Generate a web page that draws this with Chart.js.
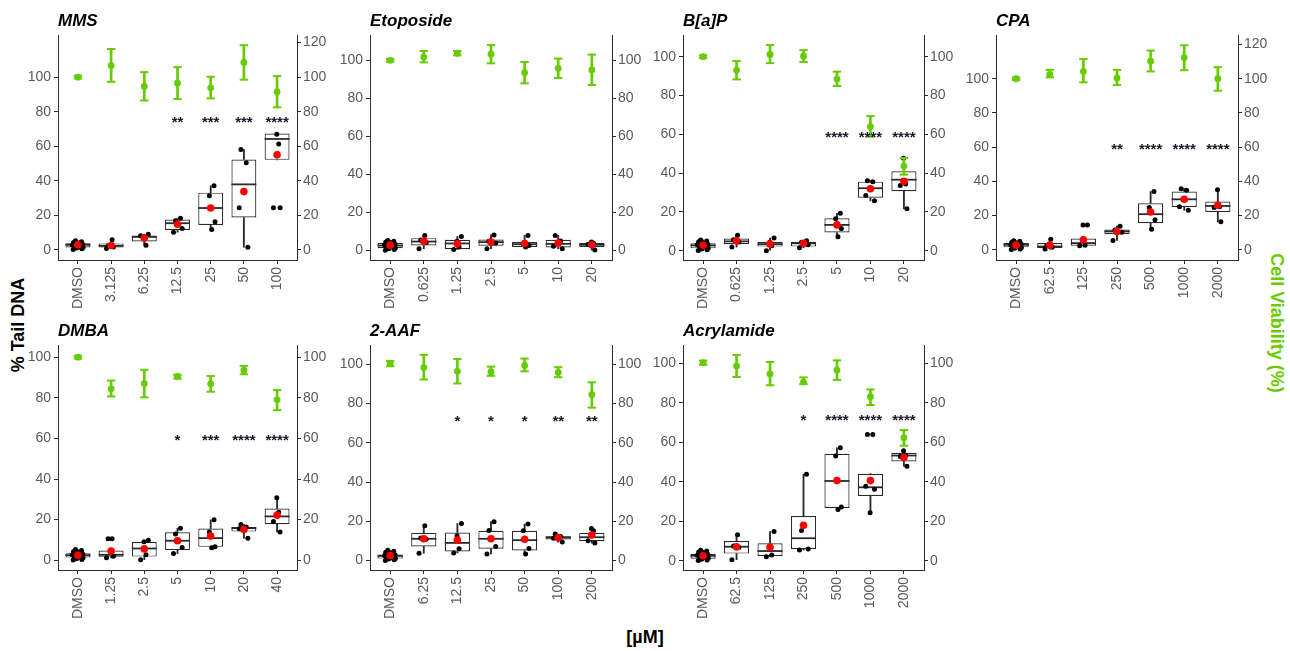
<!DOCTYPE html>
<html><head><meta charset="utf-8">
<script src="https://cdn.jsdelivr.net/npm/chart.js@4.4.1/dist/chart.umd.min.js"></script>
<style>
body{margin:0;background:#fff;}
#wrap{position:relative;width:1290px;height:651px;overflow:hidden;font-family:"Liberation Sans",Arial,sans-serif;background:#fff;}
canvas{position:absolute;}
.lab{position:absolute;font-weight:bold;font-size:18px;white-space:nowrap;transform-origin:center center;}
</style></head><body><div id="wrap">
<div class="lab" style="left:18px;top:325px;transform:translate(-50%,-50%) rotate(-90deg);color:#000;">% Tail DNA</div>
<div class="lab" style="left:1276px;top:323px;transform:translate(-50%,-50%) rotate(90deg);color:#66CC00;">Cell Viability (%)</div>
<div class="lab" style="left:645px;top:637px;transform:translate(-50%,-50%);color:#000;">[µM]</div>
</div>
<script>
// ---------------- DATA ----------------
// box rows: [whiskerLow, Q1, median, Q3, whiskerHigh]; viability rows: [mean, low, high]
const leftTicks = [0, 20, 40, 60, 80, 100];
const wideTicks = [0, 20, 40, 60, 80, 100, 120];

const mmsDoses = ['DMSO', '3.125', '6.25', '12.5', '25', '50', '100'];
const mmsBox = [[0.2,1.3,2.9,3.8,5.2],[0.8,1.3,2.3,3.7,5.8],[2.7,4.8,7.5,8.3,9.0],[10.2,11.5,15.4,17.5,18.3],[11.7,14.4,24.2,33.1,37.1],[1.5,18.7,37.9,52.3,58.1],[52.1,52.1,64.2,67.3,67.3]];
const mmsPts = [[0.2,0.6,1.0,1.3,1.7,2.1,2.5,2.8,3.2,3.6,3.9,4.3,4.7,5.2],[5.8,2.4,1.6,0.8],[9.0,7.7,2.7,8.1],[18.3,16.9,12.3,10.2],[37.1,31.3,16.3,11.7],[58.1,50.4,24.4,1.5],[66.9,61.3,24.4,24.4]];
const mmsMean = [2.9, 2.5, 6.9, 14.8, 24.2, 33.7, 55.0];
const mmsViab = [[100,99.2,100.8],[106.7,97.3,116.3],[94.6,86.5,102.9],[96.5,87.3,105.8],[93.8,87.7,100.2],[108.5,98.5,118.5],[91.5,82.5,100.6]];
const mmsStars = ['', '', '', '**', '***', '***', '****'];

const etoDoses = ['DMSO', '0.625', '1.25', '2.5', '5', '10', '20'];
const etoBox = [[0.1,1.2,2.6,3.9,5.3],[0.9,2.6,4.7,6.5,7.9],[0.5,0.7,3.7,5.6,7.4],[0.9,2.5,4.4,5.8,8.2],[1.8,1.9,3.3,4.4,7.9],[0.9,1.6,3.5,5.6,7.9],[0.2,1.8,3.0,3.9,4.4]];
const etoPts = [[0.1,0.5,0.9,1.3,1.8,2.2,2.6,2.9,3.3,3.7,4.1,4.5,4.9,5.3],[7.9,5.5,4.2,0.9],[7.4,4.8,1.9,0.5],[8.2,4.8,3.9,0.9],[7.9,3.3,2.6,1.8],[7.9,5.0,2.2,0.9],[4.4,3.8,3.3,0.2]];
const etoMean = [2.8, 4.9, 3.5, 4.4, 3.7, 3.9, 3.0];
const etoViab = [[100,99.3,100.7],[101.7,98.9,104.9],[103.7,102.6,104.9],[103.2,98.4,108],[93.5,87.9,99.1],[95.8,90.7,100.9],[94.9,87,103]];
const etoStars = ['', '', '', '', '', '', ''];

const bapDoses = ['DMSO', '0.625', '1.25', '2.5', '5', '10', '20'];
const bapBox = [[0.1,1.2,2.7,3.8,5.5],[1.9,3.3,4.8,6.3,7.9],[0.0,2.1,3.4,4.6,6.5],[1.5,2.1,3.8,4.6,5.1],[7.2,9.4,13.3,16.7,19.3],[25.7,27.3,32.2,35.6,36.1],[21.6,30.7,36.6,40.9,47.6]];
const bapPts = [[0.1,0.5,0.9,1.4,1.8,2.2,2.6,3.0,3.3,3.7,4.1,4.6,5.0,5.5],[7.9,5.6,4.5,1.9],[6.5,4.3,2.6,0.0],[5.1,4.3,3.0,1.5],[19.3,16.5,11.4,7.2],[36.1,35.6,28.5,25.7],[47.6,34.4,33.6,21.6]];
const bapMean = [2.8, 5.1, 3.4, 3.8, 13.3, 31.9, 35.8];
const bapViab = [[100,99.3,100.7],[93,88.3,97.8],[101.2,96.7,106],[100.3,97.3,103.4],[88.5,84.9,92.3],[63.9,58.8,69.4],[43.6,39.2,47.8]];
const bapStars = ['', '', '', '', '****', '****', '****'];

const cpaDoses = ['DMSO', '62.5', '125', '250', '500', '1000', '2000'];
const cpaBox = [[0.1,1.4,2.9,3.9,5.3],[0.4,1.0,1.9,3.9,6.2],[2.3,2.3,3.9,6.6,6.6],[5.4,9.1,10.7,11.8,13.8],[12.0,15.5,20.8,27.2,34.0],[23.1,25.0,29.5,34.0,35.7],[16.3,22.1,25.6,28.2,35.1]];
const cpaPts = [[0.1,0.5,0.9,1.3,1.7,2.1,2.5,2.9,3.3,3.6,4.0,4.4,4.9,5.3],[6.2,2.5,1.5,0.4],[14.4,14.4,2.7,2.3],[13.8,11.6,10.2,5.4],[34.0,24.7,17.5,12.0],[35.7,34.8,25.2,23.1],[35.1,25.2,24.7,16.3]];
const cpaMean = [2.7, 2.7, 5.8, 10.7, 22.1, 29.5, 26.0];
const cpaViab = [[100,99.3,100.7],[102.5,100.8,105.2],[104.3,97.9,111.5],[100.4,96.3,105.2],[110.3,104.3,116.5],[112.4,105,119.6],[100,93,106.8]];
const cpaStars = ['', '', '', '**', '****', '****', '****'];

const dmbaDoses = ['DMSO', '1.25', '2.5', '5', '10', '20', '40'];
const dmbaBox = [[0.1,1.3,2.5,3.5,5.3],[1.2,1.7,2.7,4.8,4.8],[0.3,1.8,5.8,9.0,9.8],[3.3,5.0,9.6,13.8,15.8],[6.1,6.6,10.9,15.6,19.9],[10.8,14.1,15.8,16.4,17.6],[13.9,17.7,21.6,25.5,30.8]];
const dmbaPts = [[0.1,0.4,0.8,1.2,1.6,2.0,2.4,2.7,3.1,3.5,3.9,4.3,4.8,5.3],[10.6,10.6,2.0,1.2],[9.8,9.1,2.7,0.3],[15.8,12.9,6.3,3.3],[19.9,13.9,6.6,6.1],[17.6,16.4,15.5,10.8],[30.8,23.7,19.1,13.9]];
const dmbaMean = [2.5, 4.5, 5.6, 9.6, 11.9, 15.1, 22.2];
const dmbaViab = [[100,99.3,100.7],[84.4,80.7,88.5],[87,80.2,93.8],[90.5,89.5,91.3],[86.9,83,90.7],[93.6,91.6,95.7],[79,73.9,83.8]];
const dmbaStars = ['', '', '', '*', '***', '****', '****'];

const aafDoses = ['DMSO', '6.25', '12.5', '25', '50', '100', '200'];
const aafBox = [[0.1,1.0,2.4,3.1,5.3],[3.7,7.2,11.1,14.1,17.7],[3.9,4.6,9.0,14.3,18.9],[3.4,6.0,11.1,15.2,19.8],[3.4,5.1,10.4,15.2,18.6],[9.4,10.7,11.8,12.4,13.5],[8.9,9.9,11.9,14.1,16.4]];
const aafPts = [[0.1,0.4,0.8,1.1,1.5,1.9,2.3,2.6,3.0,3.4,3.8,4.3,4.8,5.3],[17.7,11.5,10.9,3.7],[18.9,12.6,6.0,3.9],[19.8,15.3,7.2,3.4],[18.6,15.2,6.1,3.4],[13.5,12.2,11.4,9.4],[16.4,15.2,10.1,8.9]];
const aafMean = [2.6, 11.1, 10.4, 11.1, 10.9, 11.6, 13.0];
const aafViab = [[100.3,99,101.7],[98.3,92.2,104.8],[96.4,90.2,102.7],[96.1,94.1,98.8],[99.3,96.4,102.9],[95.8,93.4,98.5],[84.5,77.9,90.8]];
const aafStars = ['', '', '*', '*', '*', '**', '**'];

const acrDoses = ['DMSO', '62.5', '125', '250', '500', '1000', '2000'];
const acrBox = [[0.1,1.0,2.5,3.4,5.3],[0.5,3.6,7.1,10.0,13.2],[2.0,2.4,4.9,8.8,14.8],[5.4,5.8,11.4,22.6,43.8],[26.0,26.7,40.4,54.2,57.2],[24.3,32.8,37.2,44.1,44.1],[47.9,50.3,53.3,54.7,55.7]];
const acrPts = [[0.1,0.4,0.8,1.2,1.6,2.0,2.4,2.8,3.2,3.6,4.0,4.4,4.9,5.3],[13.2,7.4,6.8,0.5],[14.8,6.8,2.9,2.0],[43.8,15.3,5.9,5.4],[57.2,53.0,27.2,26.0],[64.0,64.0,37.7,36.2,24.3],[55.7,53.5,52.8,47.9]];
const acrMean = [2.5, 7.0, 6.8, 18.0, 40.6, 40.6, 52.3];
const acrViab = [[100.3,99.3,101.4],[98.6,93.1,104.2],[94.6,88.9,100.7],[90.5,89.5,92.9],[96.5,91.6,101.5],[83.1,78.9,86.8],[62.3,58.3,66.2]];
const acrStars = ['', '', '', '*', '****', '****', '****'];

// ---------------- STYLE / LAYOUT ----------------
const GREEN = '#66CC00', INK = '#2b2b2b', TXT = '#5a5a5a';
const FAMILY = '"Liberation Sans", Arial, sans-serif';
const JIT = [-0.12, 0.10, -0.04, 0.13, 0.03, -0.09, 0.07, -0.14, 0.12, -0.01, 0.05, -0.11, 0.09, -0.06, 0.14];
Chart.defaults.font.family = FAMILY;

const panels = [
  {title:'MMS', doses:mmsDoses, box:mmsBox, pts:mmsPts, mean:mmsMean, viab:mmsViab, stars:mmsStars, starY:76, yMin:-5.9, yMax:124.4, rTicks:wideTicks, axisX:58, areaW:239, top:0},
  {title:'Etoposide', doses:etoDoses, box:etoBox, pts:etoPts, mean:etoMean, viab:etoViab, stars:etoStars, starY:60, yMin:-5.0, yMax:113.3, rTicks:leftTicks, axisX:370, areaW:242, top:0},
  {title:'B[a]P', doses:bapDoses, box:bapBox, pts:bapPts, mean:bapMean, viab:bapViab, stars:bapStars, starY:60.5, yMin:-4.8, yMax:111.2, rTicks:leftTicks, axisX:683, areaW:241, top:0},
  {title:'CPA', doses:cpaDoses, box:cpaBox, pts:cpaPts, mean:cpaMean, viab:cpaViab, stars:cpaStars, starY:61, yMin:-6.0, yMax:125.6, rTicks:wideTicks, axisX:996, areaW:242, top:0},
  {title:'DMBA', doses:dmbaDoses, box:dmbaBox, pts:dmbaPts, mean:dmbaMean, viab:dmbaViab, stars:dmbaStars, starY:61, yMin:-4.8, yMax:106.0, rTicks:leftTicks, axisX:58, areaW:239, top:310},
  {title:'2-AAF', doses:aafDoses, box:aafBox, pts:aafPts, mean:aafMean, viab:aafViab, stars:aafStars, starY:73, yMin:-4.8, yMax:109.8, rTicks:leftTicks, axisX:370, areaW:242, top:310},
  {title:'Acrylamide', doses:acrDoses, box:acrBox, pts:acrPts, mean:acrMean, viab:acrViab, stars:acrStars, starY:73.3, yMin:-4.7, yMax:109.3, rTicks:leftTicks, axisX:683, areaW:241, top:310}
];

const LEFTW = 58, RIGHTW = 42, XH = 50, TOPPAD = 35, H = 310;

function halfBox(chart) {
  const s = chart.scales.x;
  return Math.abs(s.getPixelForValue(1) - s.getPixelForValue(0)) * 0.375;
}

function makePanel(p) {
  const cv = document.createElement('canvas');
  cv.width = LEFTW + p.areaW + RIGHTW;
  cv.height = H;
  cv.style.left = (p.axisX - LEFTW) + 'px';
  cv.style.top = p.top + 'px';
  document.getElementById('wrap').appendChild(cv);
  const idx = p.doses.map((_, i) => i);

  const jittered = [];
  p.pts.forEach((arr, i) => arr.forEach((v, k) => {
    const spread = i === 0 ? 1.2 : 1;
    jittered.push({x: i + JIT[(k + i * 4) % JIT.length] * spread, y: v});
  }));

  const ds = [
    {type:'scatter', data: idx.map(i => ({x:i, y:p.viab[i][2]})), yAxisID:'y2', pointStyle:'line', pointRadius:4.2, pointBorderWidth:2, pointBorderColor:GREEN, order:0},
    {type:'scatter', data: idx.map(i => ({x:i, y:p.viab[i][1]})), yAxisID:'y2', pointStyle:'line', pointRadius:4.2, pointBorderWidth:2, pointBorderColor:GREEN, order:0},
    {type:'scatter', data: idx.map(i => ({x:i, y:p.viab[i][0]})), yAxisID:'y2', pointRadius:3.4, pointBorderWidth:0, pointBackgroundColor:GREEN, order:1},
    {type:'bar', data: idx.map(i => ({x:i, y:[p.viab[i][1], p.viab[i][2]]})), yAxisID:'y2', barThickness:2, backgroundColor:GREEN, borderWidth:0, grouped:false, order:2},
    {type:'scatter', data: idx.map(i => ({x:i, y:p.mean[i]})), pointRadius:3.8, pointBorderWidth:0, pointBackgroundColor:'#FF0000', order:3},
    {type:'scatter', data: jittered, pointRadius:2.5, pointBorderWidth:0, pointBackgroundColor:'#000000', order:4},
    {type:'scatter', data: idx.map(i => ({x:i, y:p.box[i][2]})), pointStyle:'line', pointRadius: ctx => halfBox(ctx.chart), pointBorderWidth:1.8, pointBorderColor:INK, order:5},
    {type:'bar', data: idx.map(i => ({x:i, y:[p.box[i][1], p.box[i][3]]})), backgroundColor:'#FFFFFF', borderColor:INK, borderWidth:1.2, borderSkipped:false, categoryPercentage:0.75, barPercentage:1, grouped:false, order:6},
    {type:'bar', data: idx.map(i => ({x:i, y:[p.box[i][0], p.box[i][1]]})), barThickness:1.2, backgroundColor:INK, borderWidth:0, grouped:false, order:7},
    {type:'bar', data: idx.map(i => ({x:i, y:[p.box[i][3], p.box[i][4]]})), barThickness:1.2, backgroundColor:INK, borderWidth:0, grouped:false, order:7}
  ];

  const deco = {
    id: 'deco',
    afterDatasetsDraw(chart) {
      const {ctx, chartArea, scales} = chart;
      ctx.save();
      ctx.fillStyle = '#000';
      ctx.font = 'italic bold 17px ' + FAMILY;
      ctx.textAlign = 'left';
      ctx.textBaseline = 'alphabetic';
      ctx.fillText(p.title, chartArea.left, 26);
      ctx.font = 'bold 15px ' + FAMILY;
      ctx.textAlign = 'center';
      ctx.fillStyle = '#1a1a2a';
      p.stars.forEach((s, i) => {
        if (s) ctx.fillText(s, scales.x.getPixelForValue(i), scales.y.getPixelForValue(p.starY) + 0.58 * 15);
      });
      ctx.restore();
    }
  };

  const tickFont = {family: FAMILY, size: 14};
  new Chart(cv, {
    type: 'bar',
    data: {datasets: ds},
    options: {
      responsive: false, animation: false, devicePixelRatio: 1, events: [],
      layout: {padding: {top: TOPPAD, left: 0, right: 0, bottom: 0}},
      plugins: {legend: {display: false}, tooltip: {enabled: false}, title: {display: false}},
      scales: {
        x: {
          type: 'linear', min: -0.6, max: 6.6, offset: false, position: 'bottom',
          afterBuildTicks: s => { s.ticks = idx.map(v => ({value: v})); },
          afterFit: s => { s.height = XH; s.paddingLeft = 0; s.paddingRight = 0; },
          ticks: {autoSkip: false, minRotation: 90, maxRotation: 90, padding: 3, color: TXT, font: tickFont,
                  callback: v => p.doses[Math.round(v)]},
          grid: {display: true, drawOnChartArea: false, drawTicks: true, tickLength: 4, tickColor: INK, offset: false},
          border: {display: true, color: INK, width: 1}
        },
        y: {
          type: 'linear', position: 'left', min: p.yMin, max: p.yMax,
          afterBuildTicks: s => { s.ticks = leftTicks.map(v => ({value: v})); },
          afterFit: s => { s.width = LEFTW; s.paddingTop = 0; s.paddingBottom = 0; },
          ticks: {padding: 3, color: TXT, font: tickFont},
          grid: {display: true, drawOnChartArea: false, drawTicks: true, tickLength: 4, tickColor: INK},
          border: {display: true, color: INK, width: 1}
        },
        y2: {
          type: 'linear', position: 'right', min: p.yMin, max: p.yMax,
          afterBuildTicks: s => { s.ticks = p.rTicks.map(v => ({value: v})); },
          afterFit: s => { s.width = RIGHTW; s.paddingTop = 0; s.paddingBottom = 0; },
          ticks: {padding: 2, color: TXT, font: tickFont},
          grid: {display: true, drawOnChartArea: false, drawTicks: true, tickLength: 4, tickColor: INK},
          border: {display: true, color: INK, width: 1}
        }
      }
    },
    plugins: [deco]
  });
}

panels.forEach(makePanel);
</script>
</body></html>
